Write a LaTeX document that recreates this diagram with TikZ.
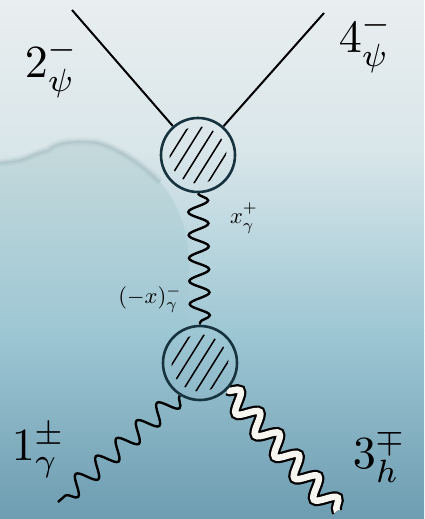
\documentclass[tikz,border=0pt]{standalone}
\usetikzlibrary{decorations.pathmorphing,calc}
\pgfdeclarelayer{bgimg}
\pgfdeclarelayer{conn}
\pgfsetlayers{bgimg,conn,main}
\definecolor{sky0}{HTML}{E9EEEF}
\definecolor{sky1}{HTML}{D9E6EA}
\definecolor{sky2}{HTML}{9EC7D4}
\definecolor{sky3}{HTML}{6E9DB1}
\definecolor{cloudc}{HTML}{C6DADC}
\definecolor{cloudedge}{HTML}{8FA8AF}
\definecolor{blobc}{HTML}{17333F}
\definecolor{hwhite}{HTML}{F7F5F0}
\begin{document}
\begin{tikzpicture}[x=1pt,y=-1pt,
  blob/.style={circle,draw=blobc,line width=2.6pt,minimum size=74pt,inner sep=0pt},
  hatch/.style={line width=1.5pt,line cap=round},
  fermion/.style={line width=2pt},
  photon/.style={line width=2.4pt,decorate,decoration={snake,amplitude=10pt,segment length=23pt}},
  photonB/.style={line width=2.4pt,decorate,decoration={snake,amplitude=9.5pt,segment length=27pt}},
  heavy/.style={line width=2.2pt,double=hwhite,double distance=6.5pt,decorate,decoration={snake,amplitude=9.5pt,segment length=29pt}},
  biglbl/.style={scale=4.6,inner sep=0pt},
  smalllbl/.style={scale=2.25,inner sep=0pt}]
\useasboundingbox (0,0) rectangle (424,519);
% background sky
\begin{pgfonlayer}{bgimg}
\begin{scope}[y=1pt]
\shade[top color=sky0,bottom color=sky1] (0,0) rectangle (424,-150);
\shade[top color=sky1,bottom color=sky2] (0,-150) rectangle (424,-330);
\shade[top color=sky2,bottom color=sky3] (0,-330) rectangle (424,-519);
% cloud on the left
\shade[top color=cloudc,bottom color=sky2] (0,-163) -- (20,-160) .. controls (32,-156) and (38,-152) .. (48,-150)
  .. controls (55,-143) and (70,-140) .. (95,-142) .. controls (115,-146) and (140,-162) .. (160,-182)
  .. controls (176,-200) and (186,-225) .. (188,-250) .. controls (190,-275) and (188,-300) .. (186,-330)
  -- (0,-330) -- cycle;
\end{scope}
\draw[cloudedge,line width=8pt,opacity=0.12] (0,163) -- (20,160) .. controls (32,156) and (38,152) .. (48,150)
  .. controls (55,143) and (70,140) .. (95,142) .. controls (115,146) and (140,162) .. (160,182);
\draw[cloudedge,line width=3.5pt,opacity=0.25] (0,163) -- (20,160) .. controls (32,156) and (38,152) .. (48,150)
  .. controls (55,143) and (70,140) .. (95,142) .. controls (115,146) and (140,162) .. (160,182);
\end{pgfonlayer}
% blobs
\node[blob] (t) at (198,155) {};
\node[blob] (b) at (200,363) {};
\foreach \n in {t,b}{
  \begin{scope}
    \clip (\n.center) circle (28.5pt);
    \foreach \d in {-23,-11.5,0,11.5,23}
      \draw[hatch] ($(\n.center)+(\d*0.85,\d*0.53)+(-21.2,33.9)$) -- ++(42.4,-67.8);
  \end{scope}
}
% external points
\coordinate (e2) at (72,10);
\coordinate (e4) at (324,13);
\coordinate (e1) at (58,502);
\coordinate (e3) at (337,511);
\begin{pgfonlayer}{conn}
\draw[fermion] (e2) -- (t);
\draw[fermion] (e4) -- (t);
\draw[photon] (t.south) -- (b.north);
\draw[photonB] (b.238) -- (e1);
\draw[heavy] (b.315) -- (e3);
\end{pgfonlayer}
% labels
\node[biglbl] (l2) at (52,68) {$2^{-}_{\psi}$};
\node[biglbl] (l4) at (366,43) {$4^{-}_{\psi}$};
\node[biglbl] (l1) at (39,451) {$1^{\pm}_{\gamma}$};
\node[biglbl] (l3) at (380,456) {$3^{\mp}_{h}$};
\node[smalllbl] (lx) at (244,218) {${x\vphantom{)}}^{+}_{\gamma}$};
\node[smalllbl] (lmx) at (150,299) {$(-x)^{-}_{\gamma}$};
\end{tikzpicture}
\end{document}
